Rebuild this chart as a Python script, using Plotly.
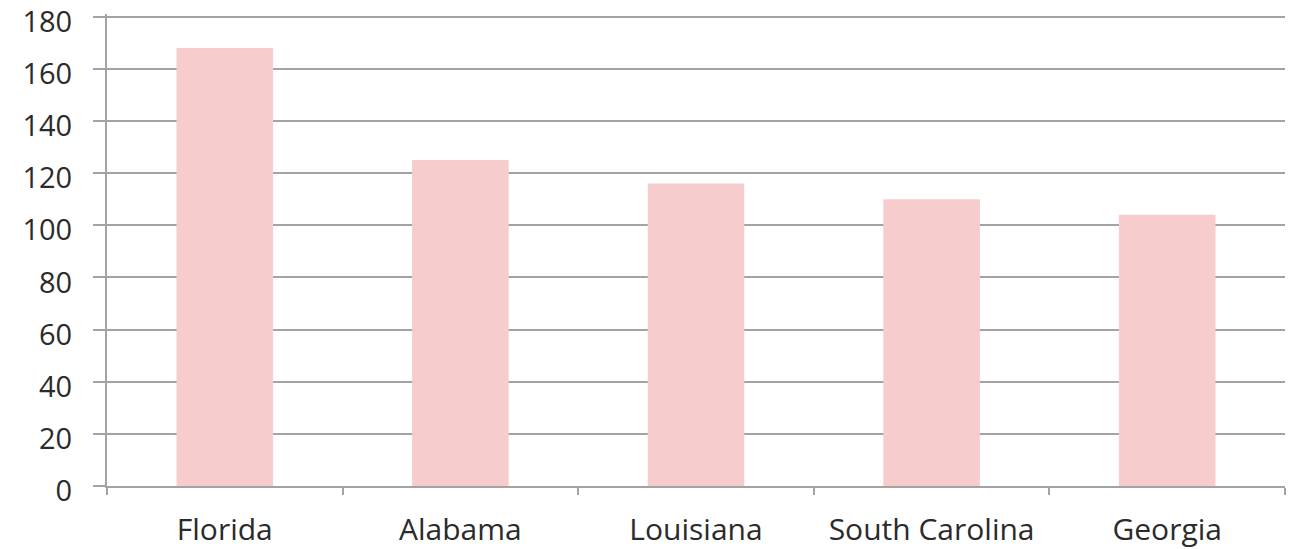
import plotly.graph_objects as go

states = ["Florida", "Alabama", "Louisiana", "South Carolina", "Georgia"]
values = [168, 125, 116, 110, 104]
y_ticks = [0, 20, 40, 60, 80, 100, 120, 140, 160, 180]

fig = go.Figure()
fig.add_trace(go.Bar(
    x=states, y=values,
    marker=dict(color="#f6cccc", line=dict(width=0)),
    width=0.41,
))

grid = "#a3a3a3"
fig.update_layout(
    width=1291, height=549,
    margin=dict(l=107, r=6, t=14, b=63, autoexpand=False),
    paper_bgcolor="white", plot_bgcolor="white",
    showlegend=False,
    font=dict(family="Open Sans", size=30, color="#2b2b2b"),
    xaxis=dict(
        showline=True, linecolor=grid, linewidth=2,
        ticks="outside", tickson="boundaries", ticklen=7, tickcolor=grid, tickwidth=2,
        showgrid=False, ticklabelstandoff=16, automargin=False,
        tickfont=dict(size=30), ticklabeloverflow="allow",
    ),
    yaxis=dict(
        range=[0, 181], tickvals=y_ticks,
        showline=True, linecolor=grid, linewidth=2,
        showgrid=True, gridcolor=grid, gridwidth=2,
        ticks="outside", ticklen=12, tickcolor=grid, tickwidth=2,
        zeroline=False, ticklabelstandoff=15, automargin=False,
        ticklabelshift=5,
        tickfont=dict(size=29), ticklabeloverflow="allow",
    ),
)

fig.write_html("out.html")
